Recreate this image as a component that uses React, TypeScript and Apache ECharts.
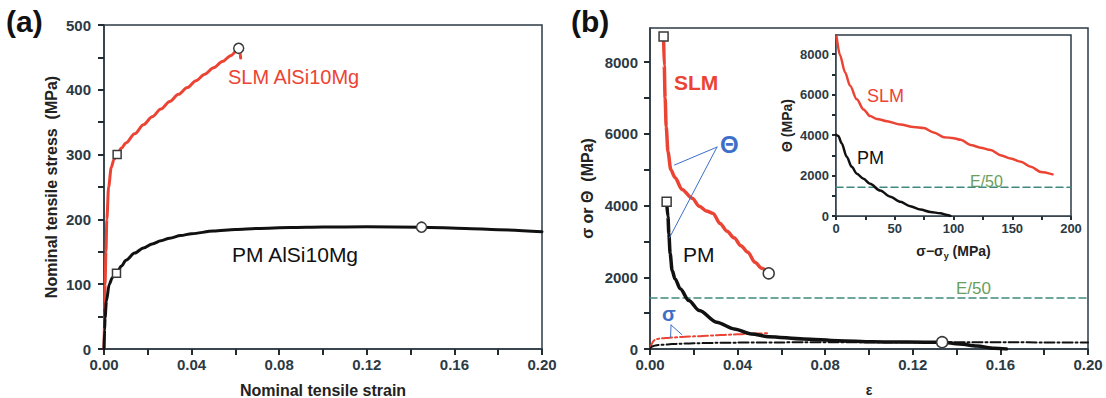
import React, { useEffect, useRef } from 'react';
import * as echarts from 'echarts';

const FONT = '"Liberation Sans", Arial, Helvetica, sans-serif';
const AXIS = '#2c3a44';
const RED = '#ec4434';
const BLACK = '#111111';
const BLUE = '#3d6fc9';
const TEAL = '#3f8a7e';
const GREEN = '#6a9e5c';

// ---------- Panel (a): nominal stress–strain ----------
const SLM_STRESS: [number, number][] = [
  [0, 0], [0.0003, 60], [0.0005, 100], [0.0009, 150], [0.0013, 200], [0.0021, 250],
  [0.0033, 280], [0.0045, 292], [0.006, 300], [0.008, 310], [0.01, 318], [0.014, 332],
  [0.018, 346], [0.022, 358.5], [0.026, 370.5], [0.03, 382], [0.034, 393], [0.038, 403.5],
  [0.042, 414], [0.046, 424], [0.05, 434], [0.054, 443.5], [0.058, 453], [0.0615, 464],
  [0.0622, 456], [0.0624, 449],
];
const PM_STRESS: [number, number][] = [
  [0, 0], [0.0003, 30], [0.0005, 48], [0.0011, 74], [0.0024, 100], [0.0038, 110],
  [0.0057, 117], [0.008, 128], [0.01, 137], [0.014, 148], [0.018, 156], [0.022, 162],
  [0.026, 167], [0.03, 171], [0.035, 175], [0.04, 178], [0.05, 182], [0.06, 184.5],
  [0.07, 186], [0.085, 187.5], [0.1, 188.2], [0.12, 188.5], [0.145, 188], [0.165, 186],
  [0.18, 184], [0.2, 181],
];
const A_SQUARES: [number, number][] = [[0.006, 300], [0.0057, 117]];
const A_CIRCLES: [number, number][] = [[0.0615, 464], [0.145, 188]];

// ---------- Panel (b): strain-hardening rate ----------
const SLM_THETA: [number, number][] = [
  [0.0062, 8710], [0.0065, 7900], [0.0069, 7000], [0.0074, 6200], [0.0082, 5500],
  [0.0095, 5000], [0.0114, 4780], [0.0146, 4450], [0.0193, 4200], [0.0225, 3980],
  [0.0257, 3850], [0.0288, 3780], [0.032, 3500], [0.0352, 3280], [0.0384, 3100],
  [0.0415, 2880], [0.0447, 2700], [0.0479, 2420], [0.051, 2250], [0.0542, 2110],
];
const PM_THETA: [number, number][] = [
  [0.0076, 4107], [0.0082, 3687], [0.0086, 3221], [0.0092, 2660], [0.0101, 2194],
  [0.0114, 1960], [0.0138, 1680], [0.0177, 1354], [0.0225, 1073], [0.0304, 747],
  [0.0384, 560], [0.0463, 420], [0.0542, 345], [0.07, 280], [0.0859, 233],
  [0.1017, 205], [0.1176, 192], [0.1334, 190], [0.1414, 140], [0.1493, 84],
  [0.1572, 19], [0.1628, 0],
];
const B_SQUARES: [number, number][] = [[0.0062, 8710], [0.0076, 4107]];
const B_CIRCLES: [number, number][] = [[0.0542, 2110], [0.1334, 190]];
const E50 = 1420;
const SLM_SIGMA_END = 0.0545;
const THETA_LEADER_1: [number, number][] = [[0.0306, 5630], [0.0112, 5130]];
const THETA_LEADER_2: [number, number][] = [[0.0306, 5630], [0.0089, 3100]];
const SIGMA_LEADER_1: [number, number][] = [[0.0096, 669], [0.0094, 330]];
const SIGMA_LEADER_2: [number, number][] = [[0.0096, 669], [0.0146, 400]];

// ---------- Inset: Theta vs sigma - sigma_y ----------
const SLM_INSET: [number, number][] = [
  [0.5, 8870], [3.4, 7950], [7.7, 7110], [12, 6440], [17.7, 5770], [23.4, 5270],
  [29, 4940], [34.8, 4800], [43.3, 4690], [54.7, 4520], [66, 4400], [74.6, 4350],
  [83.2, 4130], [91.7, 3900], [100.3, 3850], [106, 3770], [114.5, 3515], [123, 3380],
  [131.6, 3260], [140, 3010], [148.7, 2845], [157.3, 2680], [165.8, 2430], [174.4, 2180],
  [184.3, 2060],
];
const PM_INSET: [number, number][] = [
  [0, 4020], [2, 3960], [4.8, 3600], [9.1, 2930], [13.4, 2430], [17.7, 2090],
  [23.4, 1840], [29, 1590], [37.6, 1255], [46.2, 955], [54.7, 700], [63.2, 485],
  [71.8, 320], [80.3, 200], [88.9, 135], [94.6, 50], [97.4, 0],
];

// Axis with ticks every `step` (minor) and labels only every `labelStep` (major)
function axis(
  gridIndex: number,
  min: number,
  max: number,
  step: number,
  labelStep: number,
  o: {
    fontSize: number;
    margin: number;
    name?: string;
    nameGap?: number;
    nameSize?: number;
    decimals?: number;
    hideMax?: boolean;
    tick?: number;
    rich?: any;
    position: string;
  }
) {
  const tick = o.tick ?? 6;
  const isMajor = (v: number) => {
    const r = v / labelStep;
    return Math.abs(r - Math.round(r)) < 1e-6;
  };
  return {
    type: 'value',
    gridIndex,
    position: o.position,
    min,
    max,
    interval: step,
    axisLine: { show: true, onZero: false, lineStyle: { color: AXIS, width: 1.5 } },
    axisTick: { show: true, inside: false, length: tick, lineStyle: { color: '#222c33', width: 2 } },
    splitLine: { show: false },
    axisLabel: {
      color: AXIS,
      fontFamily: FONT,
      fontWeight: 'bold',
      fontSize: o.fontSize,
      margin: o.margin,
      hideOverlap: false,
      formatter: (v: number) =>
        isMajor(v) ? (o.decimals != null ? v.toFixed(o.decimals) : String(Math.round(v))) : '',
      showMaxLabel: o.hideMax ? false : true,
      showMinLabel: true,
    },
    name: o.name,
    nameLocation: 'middle',
    nameGap: o.nameGap,
    nameTextStyle: {
      color: '#222',
      fontFamily: FONT,
      fontWeight: 'bold',
      fontSize: o.nameSize,
      rich: o.rich,
    },
  };
}

function line(
  x: number,
  data: [number, number][],
  color: string,
  width: number,
  type: any = 'solid',
  smooth: number | boolean = 0.3,
  z = 3
) {
  return {
    type: 'line',
    xAxisIndex: x,
    yAxisIndex: x,
    data,
    symbol: 'none',
    showSymbol: false,
    smooth,
    smoothMonotone: 'x',
    silent: true,
    z,
    lineStyle: { color, width, type, cap: 'round', join: 'round' },
  };
}

function markers(x: number, data: [number, number][], symbol: string, size: number) {
  return {
    type: 'scatter',
    xAxisIndex: x,
    yAxisIndex: x,
    data,
    symbol,
    symbolSize: size,
    silent: true,
    z: 6,
    itemStyle: { color: '#ffffff', borderColor: '#3a3a3a', borderWidth: 1.5, opacity: 1 },
  };
}

function label(text: string, left: number, top: number, size: number, fill: string, weight = 'normal') {
  return {
    type: 'text',
    left,
    top,
    z: 10,
    style: { text, fill, fontSize: size, fontWeight: weight, fontFamily: FONT },
  };
}

export default function App() {
  const ref = useRef<HTMLDivElement>(null);

  useEffect(() => {
    if (!ref.current) return;
    const chart = echarts.init(ref.current, null, { renderer: 'svg' });
    const dashDot = [10, 3, 2, 3];

    const option: any = {
      animation: false,
      backgroundColor: '#ffffff',
      textStyle: { fontFamily: FONT },
      grid: [
        { left: 104, top: 25, width: 438, height: 324, show: true, borderColor: AXIS, borderWidth: 1.5, backgroundColor: 'transparent', containLabel: false, outerBoundsMode: 'none' },
        { left: 650, top: 28, width: 438, height: 321, show: true, borderColor: AXIS, borderWidth: 1.5, backgroundColor: 'transparent', containLabel: false, outerBoundsMode: 'none' },
        { left: 836, top: 35, width: 235, height: 181, show: true, borderColor: AXIS, borderWidth: 1.5, backgroundColor: '#ffffff', containLabel: false, outerBoundsMode: 'none', z: 4 },
      ],
      xAxis: [
        axis(0, 0, 0.2, 0.02, 0.04, { position: 'bottom', fontSize: 15, margin: 8, decimals: 2, name: 'Nominal tensile strain', nameGap: 33, nameSize: 16 }),
        axis(1, 0, 0.2, 0.02, 0.04, { position: 'bottom', fontSize: 15, margin: 8, decimals: 2, name: 'ε', nameGap: 34, nameSize: 14 }),
        axis(2, 0, 200, 25, 50, {
          position: 'bottom', fontSize: 13, margin: 6, tick: 4, name: '{a|σ−σ}{s|y}{a| (MPa)}', nameGap: 26, nameSize: 14,
          rich: {
            a: { fontFamily: FONT, fontWeight: 'bold', fontSize: 14, color: '#222' },
            s: { fontFamily: FONT, fontWeight: 'bold', fontSize: 9, color: '#222', padding: [9, 0, 0, 0] },
          },
        }),
      ],
      yAxis: [
        axis(0, 0, 500, 50, 100, { position: 'left', fontSize: 15, margin: 13, name: 'Nominal tensile stress  (MPa)', nameGap: 45, nameSize: 16 }),
        axis(1, 0, 8950, 1000, 2000, { position: 'left', fontSize: 15, margin: 12, hideMax: true, name: 'σ or Θ  (MPa)', nameGap: 55, nameSize: 16 }),
        axis(2, 0, 8950, 1000, 2000, { position: 'left', fontSize: 13, margin: 7, tick: 4, hideMax: true, name: 'Θ (MPa)', nameGap: 42, nameSize: 14 }),
      ],
      series: [
        // panel (a)
        line(0, SLM_STRESS, RED, 3),
        line(0, PM_STRESS, BLACK, 3),
        markers(0, A_SQUARES, 'rect', 8),
        markers(0, A_CIRCLES, 'circle', 10),
        // panel (b)
        line(1, [[0, E50], [0.2, E50]], TEAL, 1.5, [7, 4], false, 2),
        line(1, SLM_STRESS.filter((p) => p[0] <= SLM_SIGMA_END), RED, 2, dashDot, 0.3, 2),
        line(1, PM_STRESS, BLACK, 2, dashDot, 0.3, 2),
        line(1, SLM_THETA, RED, 3.5),
        line(1, PM_THETA, BLACK, 3.5),
        line(1, THETA_LEADER_1, BLUE, 1, 'solid', false, 4),
        line(1, THETA_LEADER_2, BLUE, 1, 'solid', false, 4),
        line(1, SIGMA_LEADER_1, BLUE, 1, 'solid', false, 4),
        line(1, SIGMA_LEADER_2, BLUE, 1, 'solid', false, 4),
        markers(1, B_SQUARES, 'rect', 9),
        markers(1, B_CIRCLES, 'circle', 11),
        // inset
        line(2, [[0, E50], [200, E50]], TEAL, 1.5, [7, 4], false, 5),
        line(2, SLM_INSET, RED, 2.5, 'solid', 0.3, 5),
        line(2, PM_INSET, BLACK, 2.5, 'solid', 0.3, 5),
      ],
      graphic: [
        label('(a)', 6, 6, 30, BLACK, 'bold'),
        label('(b)', 571, 6, 30, BLACK, 'bold'),
        label('SLM AlSi10Mg', 228, 67, 20, RED),
        label('PM AlSi10Mg', 232, 244, 21, BLACK),
        label('SLM', 674, 72, 21, RED, 'bold'),
        label('PM', 683, 244, 21, BLACK),
        label('Θ', 720, 132, 24, BLUE, 'bold'),
        label('σ', 662, 304, 20, BLUE, 'bold'),
        label('E/50', 956, 280, 17, GREEN),
        label('SLM', 867, 87, 18, RED),
        label('PM', 857, 149, 18, BLACK),
        label('E/50', 970, 173, 16, GREEN),
      ],
    };

    chart.setOption(option);
    return () => chart.dispose();
  }, []);

  return (
    <div
      ref={ref}
      style={{ position: 'fixed', left: 0, top: 0, width: 1106, height: 398, background: '#ffffff' }}
    />
  );
}
